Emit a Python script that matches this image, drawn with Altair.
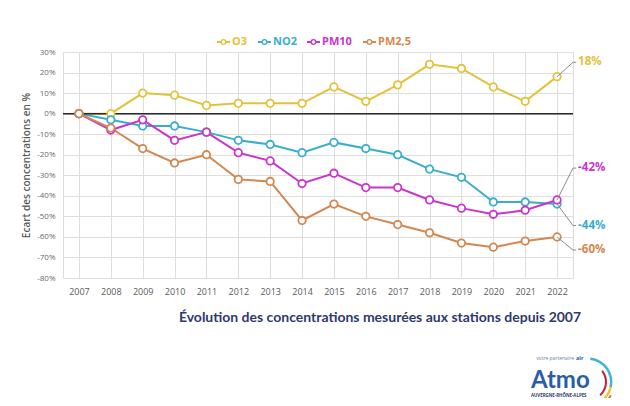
import altair as alt
import pandas as pd

years = list(range(2007, 2023))
o3 = [0, 0, 10, 9, 4, 5, 5, 5, 13, 6, 14, 24, 22, 13, 6, 18]
no2 = [0, -3, -6, -6, -9, -13, -15, -19, -14, -17, -20, -27, -31, -43, -43, -44]
pm10 = [0, -8, -3, -13, -9, -19, -23, -34, -29, -36, -36, -42, -46, -49, -47, -42]
pm25 = [0, -7, -17, -24, -20, -32, -33, -52, -44, -50, -54, -58, -63, -65, -62, -60]
series = ["O3", "NO2", "PM10", "PM2,5"]
colors = ["#E3C23A", "#38AECB", "#C935C9", "#D3874E"]
end_labels = ["18%", "-44%", "-42%", "-60%"]
end_label_y = [25, -54.5, -26.5, -66.4]
y_ticks = list(range(-80, 31, 10))

values = [o3, no2, pm10, pm25]
rows = []
for s, vals in zip(series, values):
    for yr, v in zip(years, vals):
        rows.append({"year": yr, "value": v, "series": s})
df = pd.DataFrame(rows)

W, H = 510, 226
xscale = alt.Scale(domain=[2006.5, 2022.5], nice=False, zero=False)
yscale = alt.Scale(domain=[-80, 30], nice=False, zero=False)
cscale = alt.Scale(domain=series, range=colors)

AX = alt.Axis(values=years, format="d", title=None, grid=True, gridColor="#dedede",
              domain=False, ticks=False, labelPadding=9, labelFontSize=9,
              labelColor="#5a5a5a", labelFont="Open Sans", labelOverlap=False)
AY = alt.Axis(values=y_ticks, labelExpr="datum.value + '%'", title="Ecart des concentrations en %",
              grid=True, gridColor="#dedede", domain=False, ticks=False, labelPadding=8,
              labelFontSize=8, labelColor="#6a6a6a", labelFont="Open Sans", labelOverlap=False,
              titleFont="Open Sans", titleFontSize=10, titleFontWeight=600, titleColor="#5a5a5a",
              titlePadding=5)


def X(f):
    return alt.X(f, scale=xscale, axis=AX, title=None)


def Y(f):
    return alt.Y(f, scale=yscale, axis=AY, title="Ecart des concentrations en %")


base = alt.Chart(df)

lines = base.mark_line(strokeWidth=2).encode(
    x=X("year:Q"), y=Y("value:Q"),
    color=alt.Color("series:N", scale=cscale, legend=None),
    detail="series:N",
)

zero = alt.Chart(pd.DataFrame({"v": [0]})).mark_rule(color="#2b2b2b", strokeWidth=1.5).encode(
    y=Y("v:Q")
)

points = base.mark_point(filled=True, fill="white", size=55, strokeWidth=1.8, opacity=1).encode(
    x=X("year:Q"), y=Y("value:Q"),
    stroke=alt.Stroke("series:N", scale=cscale, legend=None),
)

# end labels with leader lines
last_vals = [v[-1] for v in values]
lab_df = pd.DataFrame({"series": series, "label": end_labels, "ly": end_label_y,
                       "pv": last_vals, "x0": [years[-1]] * 4,
                       "x1": [years[-1] + 0.5] * 4, "x2": [years[-1] + 0.6] * 4,
                       "xt": [years[-1] + 0.66] * 4})
leader1 = alt.Chart(lab_df).mark_rule(color="#8a8a8a", strokeWidth=1).encode(
    x=X("x0:Q"), x2="x1:Q", y=Y("pv:Q"), y2="ly:Q")
leader2 = alt.Chart(lab_df).mark_rule(color="#8a8a8a", strokeWidth=1).encode(
    x=X("x1:Q"), x2="x2:Q", y=Y("ly:Q"))
end_text = alt.Chart(lab_df).mark_text(align="left", baseline="middle", fontSize=11.5,
                                        fontWeight="bold", font="Open Sans").encode(
    x=X("xt:Q"), y=Y("ly:Q"),
    text="label:N", color=alt.Color("series:N", scale=cscale, legend=None))

# manual legend, one small group of layers per series (pixel positions)
leg_start = [154, 195, 244, 300]
one = pd.DataFrame({"a": [1]})
legend_layers = []
for s, c, x0 in zip(series, colors, leg_start):
    legend_layers.append(alt.Chart(one).mark_rule(strokeWidth=2, color=c).encode(
        x=alt.value(x0), x2=alt.value(x0 + 13), y=alt.value(-10)))
    legend_layers.append(alt.Chart(one).mark_point(filled=True, fill="white", size=22, strokeWidth=1.3,
                                                   stroke=c, opacity=1).encode(
        x=alt.value(x0 + 6.5), y=alt.value(-10)))
    legend_layers.append(alt.Chart(one).mark_text(align="left", baseline="middle", fontSize=11,
                                                  fontWeight="bold", font="Open Sans", color=c,
                                                  text=s).encode(
        x=alt.value(x0 + 15), y=alt.value(-10)))

title = alt.Chart(one).mark_text(
    align="center", baseline="middle", fontSize=14, fontWeight="bold", font="Lato", color="#2E3A6F",
    text="Évolution des concentrations mesurées aux stations depuis 2007"
).encode(x=alt.value(317), y=alt.value(266))

# logo
logo_atmo = alt.Chart(one).mark_text(
    align="left", baseline="alphabetic", fontSize=24, fontWeight="bold", font="Lato", color="#2B5DAA",
    text="Atmo").encode(x=alt.value(468), y=alt.value(336))
logo_top = alt.Chart(one).mark_text(
    align="right", baseline="middle", fontSize=5, font="Open Sans", color="#6b7fa8",
    text="votre partenaire").encode(x=alt.value(511), y=alt.value(306))
logo_air = alt.Chart(one).mark_text(
    align="left", baseline="middle", fontSize=5.5, fontWeight="bold", font="Open Sans", color="#2B5DAA",
    text="air").encode(x=alt.value(513), y=alt.value(306))
logo_bot = alt.Chart(one).mark_text(
    align="left", baseline="middle", fontSize=4.4, fontWeight="bold", font="Open Sans", color="#2E3A6F",
    text="AUVERGNE-RHÔNE-ALPES").encode(x=alt.value(468), y=alt.value(344))

arc_specs = [
    ("#3FB5D6", 22, 24.5, 0.1, 1.8),
    ("#C8202E", 17, 19, 0.9, 2.4),
    ("#F2C230", 22, 24.5, 1.8, 2.9),
    ("#E57B2D", 25.5, 27.5, 2.1, 3.0),
]
arcs = []
for col, r1, r2, t1, t2 in arc_specs:
    arcs.append(alt.Chart(one).mark_arc(color=col).encode(
        x=alt.value(525), y=alt.value(330), radius=alt.value(r2), radius2=alt.value(r1),
        theta=alt.value(t1), theta2=alt.value(t2)))

chart = alt.layer(
    lines, zero, points, leader1, leader2, end_text, *legend_layers,
    title, logo_atmo, logo_top, logo_air, logo_bot, *arcs
).properties(
    width=W, height=H,
    autosize=alt.AutoSizeParams(type="none"),
    padding={"left": 55, "top": 44, "right": 49, "bottom": 120},
).configure_view(stroke=None).configure(background="white")

chart.save("out.html", embed_options={"renderer": "svg", "actions": False})
